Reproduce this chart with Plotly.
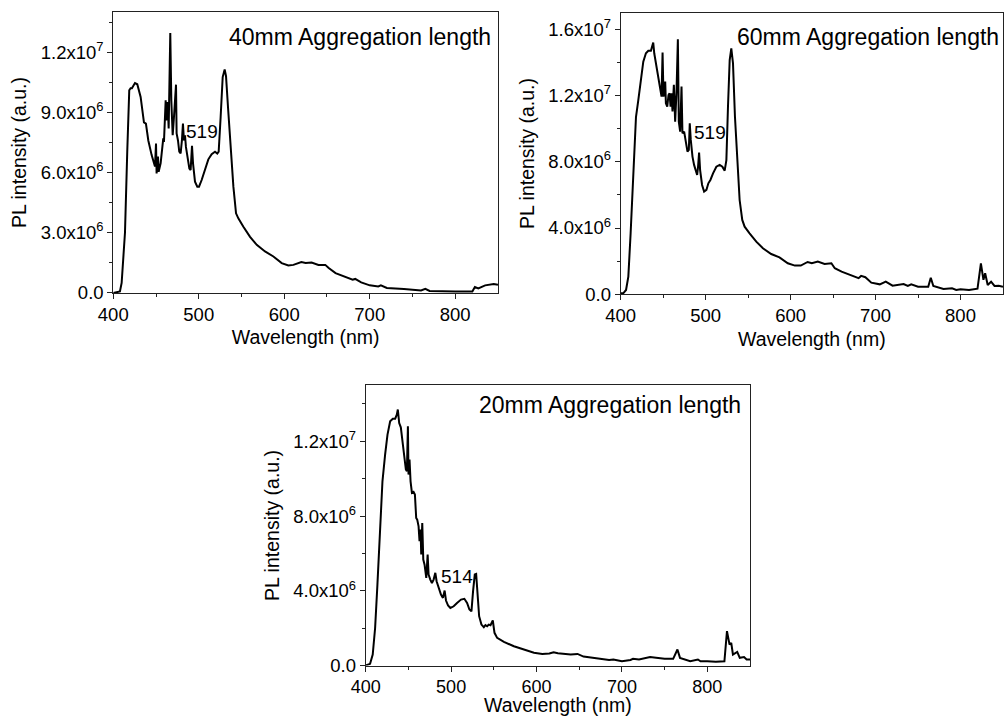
import numpy as np
import plotly.graph_objects as go

# ---------------- data (intensity in units of 1e6 a.u.) ----------------
wl_40 = [400, 407.8, 409.8, 413.7, 416.4, 418.7, 420.3, 421.8, 425.4, 428.1, 432, 435.9, 438.2, 441,
         444.9, 447.6, 448.8, 450, 450.7, 452.3, 453.1, 455.4, 457, 458.5, 459.3, 461.3, 462, 463.6,
         464.8, 466.7, 467.9, 469.5, 471, 473.4, 474.1, 475.7, 477.2, 478.8, 480.3, 481.5, 482.7,
         483.9, 485, 487, 489, 490.5, 492.1, 493.3, 495.6, 498.3, 500.3, 503.4, 507.3, 511.2, 515.1,
         519, 521.7, 523.3, 525.6, 528, 530.3, 531.9, 534.2, 537.3, 540.5, 543.6, 546.3, 552.2, 560,
         567.8, 577.5, 587.3, 597, 604.8, 610.7, 620, 625, 632, 640, 648, 652, 660, 670, 680, 683,
         690, 700, 710, 713, 720, 740, 760, 765, 770, 800, 820, 823, 827, 835, 845, 850]
pl_40 = [0.0, 0.08, 0.5, 3.0, 7.1, 10.1, 10.2, 10.2, 10.46, 10.4, 9.77, 8.5, 8.44, 7.6,
         6.87, 6.37, 6.3, 7.45, 5.96, 6.8, 6.04, 6.46, 7.28, 7.7, 7.53, 9.6, 8.6, 9.52,
         8.2, 12.95, 9.6, 7.86, 8.77, 10.38, 7.95, 7.6, 7.04, 6.95, 7.6, 8.44, 7.6,
         7.86, 7.28, 6.62, 6.2, 6.13, 7.33, 6.46, 5.55, 5.3, 5.3, 5.63, 6.16, 6.66, 6.92,
         7.04, 6.95, 7.04, 8.77, 10.76, 11.14, 10.8, 9.27, 7.12, 5.3, 3.97, 3.72, 3.3, 2.8,
         2.4, 2.07, 1.82, 1.49, 1.37, 1.4, 1.54, 1.49, 1.52, 1.4, 1.4, 1.24, 0.99, 0.83, 0.66, 0.7,
         0.53, 0.38, 0.33, 0.38, 0.25, 0.2, 0.13, 0.21, 0.1, 0.07, 0.07, 0.3, 0.23, 0.38, 0.45, 0.41]

wl_60 = [400, 403, 406.3, 409, 411.7, 414.9, 418, 420.7, 423.5, 426.6, 429.7, 432.5, 435.6, 437.2,
         438.3, 439.5, 442.2, 445, 446.9, 448.1, 449.3, 450.4, 452.4, 453.2, 454.8, 456.3, 457.5,
         458.7, 459.8, 461, 462.6, 464.1, 465.7, 467.3, 468.4, 470, 471.6, 472.7, 474.7, 476.7,
         478.6, 480.2, 481.3, 482.5, 484.5, 486.4, 488.4, 490, 491.1, 492.3, 493.5, 495.8, 498.2,
         500.9, 503.2, 505.6, 508.7, 512.6, 516.5, 519.7, 522.4, 524.4, 526.3, 528.3, 530.2, 532.2,
         534.5, 537.3, 540, 543.1, 545.9, 551.7, 559.6, 567.4, 577.2, 586.9, 596.7, 605, 612, 620,
         625, 632, 640, 648, 652, 660, 670, 680, 683, 688, 695, 705, 712, 720, 733, 738, 742, 750,
         762, 765, 768, 780, 790, 795, 800, 810, 820, 824, 827, 829, 832, 836, 840, 845, 850]
pl_60 = [0.06, 0.06, 0.26, 1.07, 3.68, 7.7, 10.7, 11.7, 13.0, 14.04, 14.55, 14.7, 14.7, 14.95,
         15.2, 14.55, 13.64, 12.94, 12.13, 11.93, 14.6, 11.93, 12.84, 11.53, 11.33, 12.03, 12.13,
         11.33, 12.13, 11.03, 12.64, 10.42, 12.23, 15.39, 10.42, 9.82, 12.54, 9.72, 9.82, 9.11,
         8.61, 8.71, 10.32, 9.32, 8.31, 7.81, 7.5, 7.2, 7.71, 8.55, 7.5, 6.6, 6.2,
         6.3, 6.7, 6.9, 7.3, 7.7, 7.81, 7.7, 7.46, 8.1, 11.33, 14.14, 14.85, 13.94,
         10.72, 7.7, 5.69, 4.49, 4.08, 3.68, 3.18, 2.78, 2.43, 2.23, 1.87, 1.73, 1.73, 1.95,
         1.87, 1.97, 1.83, 1.87, 1.57, 1.37, 1.17, 0.97, 1.11, 1.03, 0.7, 0.6, 0.76, 0.52, 0.62, 0.5, 0.6, 0.46,
         0.46, 1.0, 0.5, 0.32, 0.36, 0.26, 0.3, 0.26, 0.34, 1.87, 0.87, 1.27, 0.56, 0.76, 0.5, 0.52, 0.46]

wl_20 = [400, 401.2, 405.1, 408.2, 411, 413.7, 416.8, 419.6, 422.7, 425.5, 428.6, 431.7, 434.5,
         436.4, 437.6, 439.2, 441.1, 443.5, 445.4, 447, 448.2, 449.4, 450.1, 451.3, 452.5, 454.1,
         456, 457.6, 459.1, 460.3, 461.9, 463, 464.2, 465, 466.2, 467.4, 468.9, 470.9, 472.5,
         473.6, 475.6, 477.5, 479.5, 481.5, 483, 485.4, 488.1, 490.4, 492.4, 494, 496.4, 499.1,
         503, 506.9, 511.6, 515.5, 518.7, 521.4, 523.8, 525.7, 527.7, 529.3, 530.8, 532.8, 535.5,
         538.3, 540.2, 542.2, 544.1, 546.1, 548.8, 550.8, 553.9, 561.8, 573.5, 585.3, 597, 606.8,
         615, 620, 625, 640, 648, 655, 670, 685, 690, 700, 710, 713, 720, 733, 740, 750, 760, 765,
         768, 780, 789, 792, 800, 810, 820, 823, 826, 828, 830, 835, 838, 843, 846, 850]
pl_20 = [0.0, 0.02, 0.09, 0.59, 2.01, 4.33, 7.36, 9.86, 11.29, 12.36, 13.07, 13.21, 13.21,
         13.43, 13.7, 12.98, 12.75, 11.82, 11.11, 10.49, 10.4, 12.8, 10.22, 11.02, 9.86, 9.24,
         9.29, 9.15, 7.9, 7.81, 7.45, 6.65, 7.28, 5.94, 7.63, 5.67, 5.4, 4.69, 5.94,
         4.87, 4.6, 4.42, 4.6, 4.96, 4.51, 4.15, 3.8, 3.62, 4.01, 3.48, 3.21, 3.08,
         3.17, 3.35, 3.53, 3.57, 3.35, 3.0, 2.9, 3.98, 4.87, 4.9, 3.98, 2.64, 2.19,
         2.05, 2.16, 2.1, 2.19, 2.16, 2.41, 1.75, 1.48, 1.27, 1.03, 0.86, 0.68, 0.62,
         0.64, 0.71, 0.66, 0.59, 0.62, 0.48, 0.37, 0.3, 0.32, 0.23, 0.3, 0.36, 0.32, 0.45, 0.41, 0.36, 0.36, 0.86,
         0.41, 0.23, 0.32, 0.23, 0.23, 0.2, 0.23, 1.84, 1.12, 1.21, 0.59, 0.73, 0.41, 0.45, 0.32, 0.32]

x_ticks = [400, 500, 600, 700, 800]
y_ticks_40 = [0, 3e6, 6e6, 9e6, 1.2e7]
y_text_40 = ["0.0", "3.0x10<sup>6</sup>", "6.0x10<sup>6</sup>", "9.0x10<sup>6</sup>", "1.2x10<sup>7</sup>"]
y_ticks_60 = [0, 4e6, 8e6, 1.2e7, 1.6e7]
y_text_60 = ["0.0", "4.0x10<sup>6</sup>", "8.0x10<sup>6</sup>", "1.2x10<sup>7</sup>", "1.6x10<sup>7</sup>"]
y_ticks_20 = [0, 4e6, 8e6, 1.2e7]
y_text_20 = ["0.0", "4.0x10<sup>6</sup>", "8.0x10<sup>6</sup>", "1.2x10<sup>7</sup>"]

labels = ["40mm Aggregation length", "60mm Aggregation length", "20mm Aggregation length"]
peak_labels = ["519", "519", "514"]

# ---------------- figure ----------------
FONT = "Arial, Liberation Sans, sans-serif"
fig = go.Figure()

panels = [
    dict(wl=wl_40, pl=pl_40, xdom=[0.1127, 0.4955], ydom=[0.5908, 0.9832], yr=[0, 1.4e7],
         yt=y_ticks_40, ytt=y_text_40, ymin=1.5e6, lab_x=0.4905, lab_y=0.949,
         pk=(483, 8.06e6), xfont=18.5),
    dict(wl=wl_60, pl=pl_60, xdom=[0.6176, 0.998], ydom=[0.589, 0.9823], yr=[0, 1.7e7],
         yt=y_ticks_60, ytt=y_text_60, ymin=2e6, lab_x=0.9965, lab_y=0.949,
         pk=(484.3, 9.74e6), xfont=18.5),
    dict(wl=wl_20, pl=pl_20, xdom=[0.3639, 0.7463], ydom=[0.0705, 0.4619], yr=[0, 1.5e7],
         yt=y_ticks_20, ytt=y_text_20, ymin=2e6, lab_x=0.7393, lab_y=0.434,
         pk=(485.3, 4.78e6), xfont=18),
]

annotations = []
for i, p in enumerate(panels):
    n = "" if i == 0 else str(i + 1)
    xa, ya = "x" + n, "y" + n
    fig.add_trace(go.Scatter(x=p["wl"], y=np.array(p["pl"]) * 1e6, mode="lines",
                             line=dict(color="black", width=2), xaxis=xa, yaxis=ya,
                             showlegend=False, hoverinfo="x+y"))
    axis_common = dict(showline=True, linecolor="#222", linewidth=1, mirror=True,
                       showgrid=False, zeroline=False, ticks="outside", ticklen=5,
                       tickwidth=1, tickcolor="#222", automargin=False)
    fig.update_layout(**{
        "xaxis" + n: dict(axis_common, domain=p["xdom"], range=[400, 850], anchor=ya,
                          tickvals=x_ticks,
                          tickfont=dict(family=FONT, size=p["xfont"], color="black"),
                          minor=dict(tickvals=[450, 550, 650, 750], ticklen=3, ticks="outside",
                                     tickcolor="#222"),
                          title=dict(text="Wavelength (nm)", standoff=6,
                                     font=dict(family=FONT, size=19.5, color="black"))),
        "yaxis" + n: dict(axis_common, domain=p["ydom"], range=p["yr"], anchor=xa,
                          tickvals=p["yt"], ticktext=p["ytt"],
                          tickfont=dict(family=FONT, size=18.5, color="black"),
                          minor=dict(dtick=p["ymin"], tick0=0, ticklen=3, ticks="outside",
                                     tickcolor="#222"),
                          title=dict(text="PL intensity (a.u.)", standoff=8,
                                     font=dict(family=FONT, size=19.5, color="black"))),
    })
    annotations.append(dict(text=labels[i], xref="paper", yref="paper", x=p["lab_x"], y=p["lab_y"],
                            xanchor="right", yanchor="middle", showarrow=False,
                            font=dict(family=FONT, size=23, color="black")))
    annotations.append(dict(text=peak_labels[i], xref=xa, yref=ya, x=p["pk"][0], y=p["pk"][1],
                            xanchor="left", yanchor="middle", showarrow=False,
                            font=dict(family=FONT, size=19, color="black")))

fig.update_layout(width=1005, height=716, margin=dict(l=0, r=0, t=0, b=0),
                  plot_bgcolor="white", paper_bgcolor="white", annotations=annotations,
                  showlegend=False)

fig.write_html("out.html")
